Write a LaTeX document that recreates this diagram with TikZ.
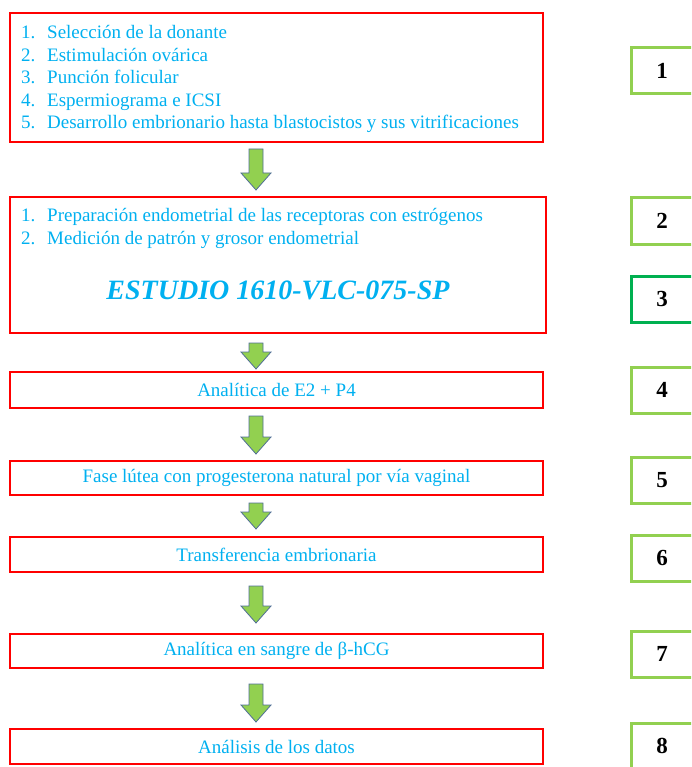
\documentclass[tikz,border=0pt]{standalone}
\usepackage{fontspec}
\setmainfont{Liberation Serif}
\usetikzlibrary{calc, positioning}

\definecolor{boxred}{RGB}{255,0,0}
\definecolor{textblue}{RGB}{0,176,240}
\definecolor{lightgreen}{RGB}{146,208,80}
\definecolor{darkgreen}{RGB}{0,176,80}
\definecolor{arrowedge}{RGB}{80,110,150}

\begin{document}
\begin{tikzpicture}[
            x = 1pt, y = -1pt, % pixel-like units, y downwards
            stepbox/.style = {draw=boxred, line width=2pt, minimum width=533pt,
                              inner sep=0pt, text=textblue,
                              font=\fontsize{19}{22.5}\selectfont},
            steplist/.style = {anchor=north west, inner sep=0pt, text=textblue,
                               font=\fontsize{19}{22.5}\selectfont},
            numbox/.style = {draw=lightgreen, line width=3pt, minimum width=62pt,
                             minimum height=46pt, inner sep=0pt,
                             font=\fontsize{23}{26}\selectfont\bfseries},
            blockarrow/.style = {draw=arrowedge, fill=lightgreen, line width=0.8pt,
                                 line join=miter}
        ]
\clip (0,0) rectangle (691,767);

% process steps
\node[stepbox, minimum height=129pt] (b1) at (276.5,77.5) {};
\node[steplist] (b1list) at ($(b1.north west)+(12,11)$) {%
  \begin{tabular}{@{}p{26pt}@{}l@{}}
  1. & Selección de la donante\\
  2. & Estimulación ovárica\\
  3. & Punción folicular\\
  4. & Espermiograma e ICSI\\
  5. & Desarrollo embrionario hasta blastocistos y sus vitrificaciones
  \end{tabular}};
\node[stepbox, minimum width=536pt, minimum height=136pt] (b2) at (278,265) {};
\node[steplist] (b2list) at ($(b2.north west)+(12,10)$) {%
  \begin{tabular}{@{}p{26pt}@{}l@{}}
  1. & Preparación endometrial de las receptoras con estrógenos\\
  2. & Medición de patrón y grosor endometrial
  \end{tabular}};
\node[text=textblue, font=\fontsize{28}{32}\selectfont\bfseries\itshape] (study) at (278,290) {ESTUDIO 1610-VLC-075-SP};
\node[stepbox, minimum height=36pt] (b4) at (276.5,390) {Analítica de E2 + P4};
\node[stepbox, minimum height=34pt] (b5) at (276.5,478) {Fase lútea con progesterona natural por vía vaginal};
\node[stepbox, minimum height=35pt] (b6) at (276.5,554.5) {Transferencia embrionaria};
\node[stepbox, minimum height=34pt] (b7) at (276.5,651) {Analítica en sangre de β-hCG};
\node[stepbox, minimum height=35pt] (b8) at (276.5,746.5) {Análisis de los datos};

% step numbers
\node[numbox] (n1) at (662,71) {1};
\node[numbox] (n2) at (662,221) {2};
\node[numbox, draw=darkgreen] (n3) at (662,299) {3};
\node[numbox] (n4) at (662,390) {4};
\node[numbox] (n5) at (662,480) {5};
\node[numbox] (n6) at (662,558) {6};
\node[numbox] (n7) at (662,654) {7};
\node[numbox] (n8) at (662,746) {8};

% block arrows between steps (gap above / below)
\foreach \a/\b/\top/\bot in {b1/b2/6/6, b2/b4/9/2, b4/b5/7/6, b5/b6/7/7, b6/b7/13/10, b7/b8/15/6}
  \draw[blockarrow] let \p1 = (256,0),
                        \p2 = ($(\a.south) + (0,\top)$),
                        \p3 = ($(\b.north) + (0,-\bot)$) in
    (\x1-7,\y2) -- (\x1+7,\y2) -- (\x1+7,\y3+17) -- (\x1+15,\y3+17) -- (\x1,\y3)
    -- (\x1-15,\y3+17) -- (\x1-7,\y3+17) -- cycle;

\end{tikzpicture}
\end{document}
